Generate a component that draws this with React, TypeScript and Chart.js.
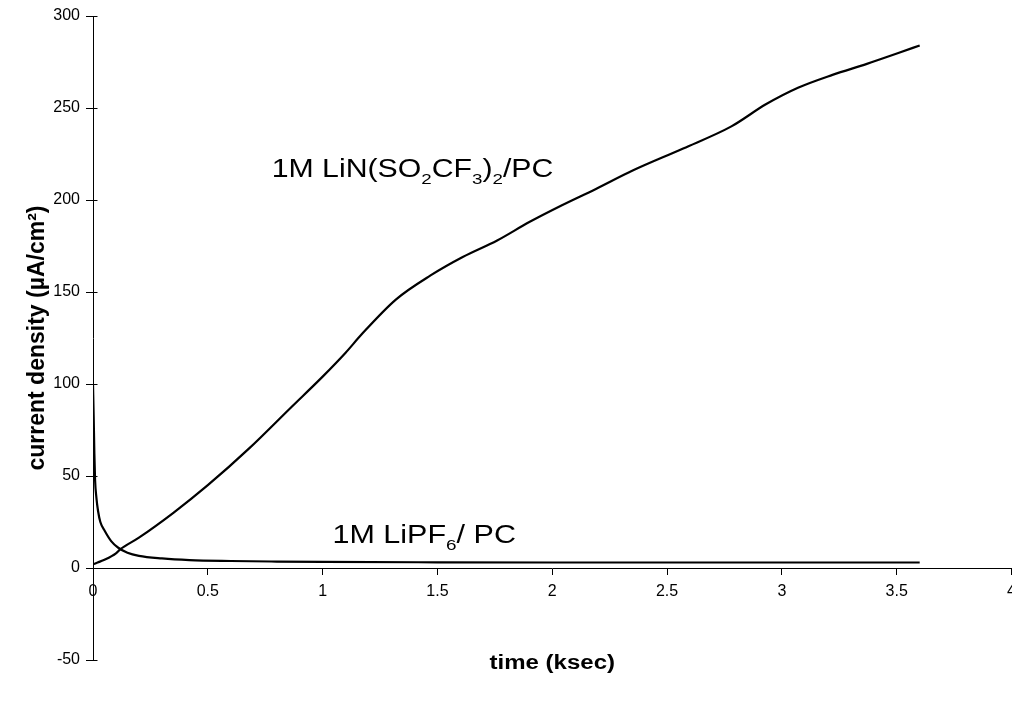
import React, { useEffect, useRef } from "react";
import { Chart, registerables } from "chart.js";

Chart.register(...registerables);

// LiN(SO2CF3)2 / PC series: time (ksec) and current density (µA/cm²)
const timeLiTFSI = [0, 0.02, 0.05, 0.1, 0.117, 0.2, 0.35, 0.5, 0.68, 0.86, 1.0, 1.1, 1.17, 1.32, 1.47, 1.61, 1.76, 1.9, 2.04, 2.19, 2.35, 2.57, 2.78, 2.93, 3.07, 3.22, 3.37, 3.51, 3.6];
const currLiTFSI = [2, 3, 4.5, 8, 10, 16.5, 30, 45, 65, 87, 104, 117, 127, 146, 159, 169, 178, 188, 197, 206, 216, 228, 240, 252, 261, 268, 274, 280, 284];

// LiPF6 / PC series
const timeLiPF6 = [0, 0.003, 0.006, 0.009, 0.015, 0.022, 0.032, 0.052, 0.08, 0.11, 0.15, 0.2, 0.3, 0.42, 0.6, 0.8, 1.0, 1.5, 2.0, 2.5, 3.0, 3.6];
const currLiPF6 = [100, 82, 62, 48, 38, 31, 25, 20, 14.5, 11, 8.3, 6.6, 5.2, 4.3, 3.8, 3.5, 3.3, 3.1, 3.0, 3.0, 3.0, 3.0];

const xMin = 0, xMax = 4, xStep = 0.5;
const yMin = -50, yMax = 300, yStep = 50;

const xTitle = "time (ksec)";
const yTitle = "current density (µA/cm²)";

// annotation labels: [text, isSubscript]
const labelTFSI: [string, boolean][] = [["1M LiN(SO", false], ["2", true], ["CF", false], ["3", true], [")", false], ["2", true], ["/PC", false]];
const labelPF6: [string, boolean][] = [["1M LiPF", false], ["6", true], ["/ PC", false]];
const labelTFSIAt = { t: 0.778, v: 212.5 };
const labelPF6At = { t: 1.043, v: 13.6 };

const FONT = "'Liberation Sans', Arial, Helvetica, sans-serif";

function drawRich(ctx: CanvasRenderingContext2D, segs: [string, boolean][], x: number, y: number, size: number, sx: number) {
  ctx.save();
  ctx.translate(x, y);
  ctx.scale(sx, 1);
  ctx.fillStyle = "#000";
  ctx.textBaseline = "alphabetic";
  ctx.textAlign = "left";
  let cx = 0;
  for (const [t, sub] of segs) {
    const fs = sub ? size * 0.62 : size;
    ctx.font = `${fs}px ${FONT}`;
    ctx.fillText(t, cx, sub ? size * 0.28 : 0);
    cx += ctx.measureText(t).width;
  }
  ctx.restore();
}

const overlayPlugin = {
  id: "overlay",
  afterDraw(chart: any) {
    const ctx: CanvasRenderingContext2D = chart.ctx;
    const xs = chart.scales.x;
    const ys = chart.scales.y;
    const area = chart.chartArea;
    ctx.save();
    // inner half of y tick marks (crossing ticks)
    ctx.strokeStyle = "#000";
    ctx.lineWidth = 1;
    const ax = Math.round(area.left) + 0.5;
    for (let v = yMin; v <= yMax; v += yStep) {
      const py = Math.round(ys.getPixelForValue(v)) + 0.5;
      ctx.beginPath();
      ctx.moveTo(ax, py);
      ctx.lineTo(ax + 4, py);
      ctx.stroke();
    }
    // axis titles
    ctx.fillStyle = "#000";
    ctx.textAlign = "center";
    ctx.textBaseline = "middle";
    ctx.save();
    ctx.translate((area.left + area.right) / 2, ys.getPixelForValue(yMin) + 3);
    ctx.scale(1.2, 1);
    ctx.font = `bold 20px ${FONT}`;
    ctx.fillText(xTitle, 0, 0);
    ctx.restore();
    ctx.save();
    ctx.translate(38, (area.top + area.bottom) / 2);
    ctx.rotate(-Math.PI / 2);
    ctx.font = `bold 23px ${FONT}`;
    ctx.fillText(yTitle, 0, 0);
    ctx.restore();
    // series annotations
    drawRich(ctx, labelTFSI, xs.getPixelForValue(labelTFSIAt.t), ys.getPixelForValue(labelTFSIAt.v), 25, 1.21);
    drawRich(ctx, labelPF6, xs.getPixelForValue(labelPF6At.t), ys.getPixelForValue(labelPF6At.v), 25, 1.22);
    ctx.restore();
  },
};

export default function App() {
  const ref = useRef<HTMLCanvasElement | null>(null);
  useEffect(() => {
    if (!ref.current) return;
    const toPts = (ts: number[], vs: number[]) => ts.map((t, i) => ({ x: t, y: vs[i] }));
    const chart = new Chart(ref.current, {
      type: "line",
      data: {
        datasets: [
          {
            label: "1M LiN(SO2CF3)2/PC",
            data: toPts(timeLiTFSI, currLiTFSI),
            borderColor: "#000",
            borderWidth: 2.2,
            pointRadius: 0,
            cubicInterpolationMode: "monotone",
            fill: false,
          },
          {
            label: "1M LiPF6/ PC",
            data: toPts(timeLiPF6, currLiPF6),
            borderColor: "#000",
            borderWidth: 2.2,
            pointRadius: 0,
            cubicInterpolationMode: "monotone",
            fill: false,
          },
        ],
      },
      options: {
        responsive: false,
        animation: false,
        layout: { padding: { left: 0, right: 12, top: 16, bottom: 45 } },
        plugins: { legend: { display: false }, tooltip: { enabled: false }, title: { display: false } },
        scales: {
          x: {
            type: "linear",
            position: { y: 0 } as any,
            min: xMin,
            max: xMax,
            ticks: {
              stepSize: xStep,
              color: "#000",
              font: { family: FONT, size: 16 },
              padding: 8,
              maxRotation: 0,
              autoSkip: false,
              callback: (v: any) => String(Number(v)),
            },
            grid: { drawOnChartArea: false, drawTicks: true, tickLength: 6, color: "#000" },
            border: { display: true, color: "#000", width: 1 },
          },
          y: {
            type: "linear",
            position: "left",
            min: yMin,
            max: yMax,
            ticks: { stepSize: yStep, color: "#000", font: { family: FONT, size: 16 }, padding: 6, callback: (v: any) => String(Number(v)) },
            grid: { drawOnChartArea: false, drawTicks: true, tickLength: 7, color: "#000" },
            border: { display: true, color: "#000", width: 1 },
            afterFit: (scale: any) => {
              scale.width = 93;
            },
          },
        },
      },
      plugins: [overlayPlugin],
    } as any);
    return () => chart.destroy();
  }, []);
  return (
    <div style={{ position: "fixed", left: 0, top: 0, width: 1012, height: 705, overflow: "hidden", background: "#fff" }}>
      <canvas ref={ref} width={1024} height={705} style={{ display: "block" }} />
    </div>
  );
}
